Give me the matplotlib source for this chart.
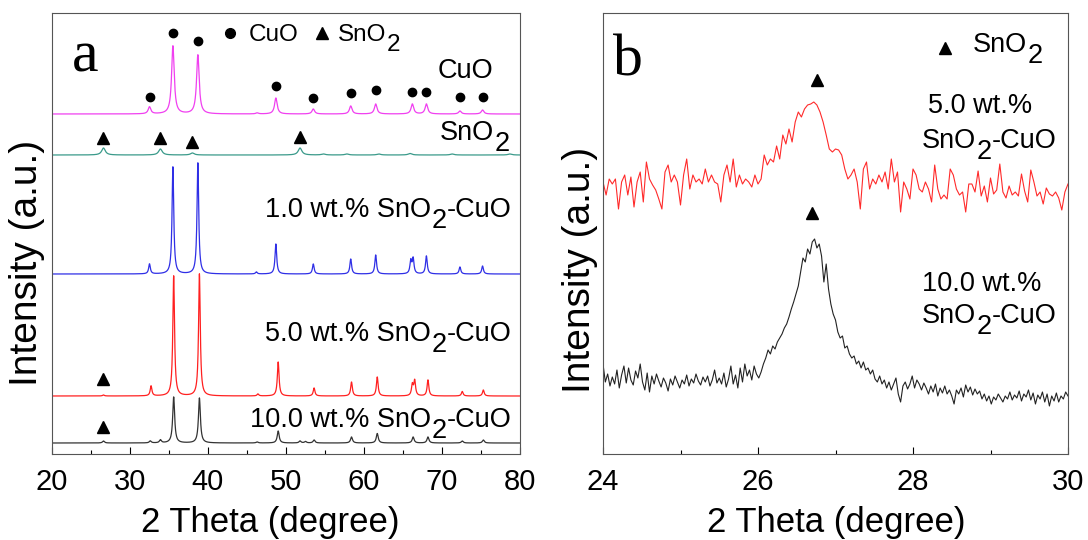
import numpy as np
import matplotlib
matplotlib.use("Agg")
import matplotlib.pyplot as plt

plt.rcParams['font.family'] = ['Liberation Sans', 'DejaVu Sans']

# ---- panel a: peak lists (2theta, height) ----
cuo_base = 340
cuo_pos = [32.5, 35.5, 38.7, 46.3, 48.7, 53.5, 58.3, 61.5, 66.2, 68.0, 72.3, 75.2]
cuo_h = [7, 68, 59, 1, 16, 5, 8, 10, 10, 10, 3, 4]
cuo_w = 0.2

sno2_base = 299
sno2_pos = [26.6, 33.9, 38.0, 51.8, 54.8, 57.8, 61.9, 65.9, 71.3, 78.7]
sno2_h = [7, 6, 2, 7, 1, 1, 1, 1.5, 1, 1]
sno2_w = 0.28

s1_base = 180
s1_pos = [32.5, 35.5, 38.7, 46.2, 48.7, 53.5, 58.3, 61.5, 66.0, 66.3, 68.0, 72.3, 75.2]
s1_h = [10, 107, 111, 2, 30, 10, 15, 19, 13, 15, 18, 7, 8]
s1_w = 0.13

s5_base = 58
s5_pos = [26.6, 32.7, 35.6, 38.9, 46.4, 49.0, 53.6, 58.4, 61.7, 66.2, 66.5, 68.2, 72.6, 75.3]
s5_h = [1, 10, 120, 122, 2, 34, 8, 14, 19, 11, 15, 16, 4.5, 6]
s5_w = 0.13

s10_base = 11
s10_pos = [26.6, 32.6, 33.9, 35.6, 38.9, 46.3, 49.0, 51.8, 52.5, 53.6, 58.4, 61.7, 66.3, 68.2, 72.6, 75.3]
s10_h = [2, 2, 3, 46, 45, 1, 12, 2, 1.5, 3, 6, 9.5, 6, 6, 2, 3]
s10_w = 0.15

# marker positions (2theta, height) above the reflections
cuo_dot_x = [32.5, 35.5, 38.7, 48.7, 53.5, 58.3, 61.5, 66.2, 68.0, 72.3, 75.2]
cuo_dot_y = [357, 421, 413, 368, 356, 361, 364, 362, 362, 357, 357]
sno2_tri_x = [26.6, 33.9, 38.0, 51.8]
sno2_tri_y = [316, 316, 312, 317]
s5_tri_x, s5_tri_y = [26.6], [75]
s10_tri_x, s10_tri_y = [26.6], [27]

# ---- panel b: (110) SnO2 reflection, scans 24-30 deg ----
red_b = [272, 259, 275, 270, 275, 245, 272, 279, 259, 277,
         247, 272, 282, 252, 292, 275, 269, 264, 255, 245,
         282, 289, 272, 279, 272, 249, 279, 295, 265, 279,
         272, 275, 270, 285, 272, 279, 272, 270, 252, 279,
         289, 272, 295, 267, 279, 270, 275, 272, 267, 279,
         270, 275, 299, 289, 295, 292, 308, 295, 319, 310,
         325, 312, 332, 342, 337, 345, 349, 350, 352, 349,
         342, 332, 319, 305, 302, 305, 304, 299, 285, 275,
         279, 285, 272, 245, 285, 292, 265, 275, 270, 279,
         272, 282, 265, 295, 272, 282, 242, 272, 265, 255,
         285, 279, 265, 262, 272, 265, 252, 289, 265, 255,
         259, 255, 285, 279, 265, 259, 262, 242, 270, 270,
         262, 283, 258, 268, 252, 276, 260, 264, 290, 262,
         256, 268, 259, 262, 258, 280, 263, 252, 284, 272,
         258, 262, 250, 266, 260, 258, 262, 256, 244, 262, 270]

black_b = [90, 72, 80, 68, 77, 70, 84, 66, 79, 88,
           71, 86, 74, 69, 83, 76, 90, 72, 64, 81,
           62, 78, 70, 80, 73, 67, 76, 71, 63, 75,
           69, 78, 72, 66, 74, 70, 79, 68, 75, 71,
           80, 73, 69, 77, 72, 78, 68, 74, 84, 71,
           76, 70, 81, 67, 75, 88, 70, 79, 66, 86,
           72, 90, 78, 84, 74, 88, 80, 76, 82, 90,
           96, 104, 100, 108, 105, 112, 116, 120, 126, 130,
           137, 145, 152, 160, 168, 182, 196, 192, 205, 200,
           212, 215, 206, 210, 198, 172, 190, 165, 150, 140,
           134, 122, 116, 118, 106, 108, 100, 96, 98, 90,
           93, 86, 92, 84, 86, 80, 84, 75, 72, 78,
           70, 74, 66, 72, 64, 70, 76, 60, 52, 68,
           72, 65, 70, 78, 66, 74, 70, 64, 71, 66,
           60, 68, 62, 70, 58, 66, 61, 68, 60, 64,
           58, 50, 64, 60, 66, 57, 69, 62, 67, 59,
           65, 60, 63, 55, 60, 53, 58, 50, 57, 54,
           60, 56, 52, 58, 55, 62, 54, 59, 56, 63,
           53, 60, 57, 64, 54, 61, 50, 59, 55, 62,
           52, 60, 48, 58, 53, 61, 52, 58, 55, 62, 58]

red_tri_x, red_tri_y = [26.76], [374]
black_tri_x, black_tri_y = [26.70], [241]


def pattern(x, base, pos, h, w):
    y = np.full_like(x, float(base))
    for p, a in zip(pos, h):
        y += a / (1 + ((x - p) / w) ** 2)
    return y


def sub_label(ax, x, y, pre, sub, post, fs):
    # subscript drawn at full size and dropped, as in the original figure
    t1 = ax.text(x, y, pre, transform=ax.transAxes, fontsize=fs, va='baseline')
    drop = 0.4 * fs
    t2 = ax.annotate(sub, xy=(1, 0), xycoords=t1, xytext=(0.5, -drop),
                     textcoords='offset points', fontsize=fs, va='bottom', ha='left')
    if post:
        ax.annotate(post, xy=(1, 0), xycoords=t2, xytext=(0, drop),
                    textcoords='offset points', fontsize=fs, va='bottom', ha='left')


fig = plt.figure(figsize=(10.88, 5.4), dpi=100)
ax1 = fig.add_axes([52 / 1088, 1 - 454 / 540, 468 / 1088, 441 / 540])
ax2 = fig.add_axes([603 / 1088, 1 - 454 / 540, 465 / 1088, 441 / 540])

tt = np.arange(20, 80.001, 0.02)
ax1.plot(tt, pattern(tt, cuo_base, cuo_pos, cuo_h, cuo_w), color='#f040f0', lw=0.9)
ax1.plot(tt, pattern(tt, sno2_base, sno2_pos, sno2_h, sno2_w), color='#3a9a8a', lw=0.9)
ax1.plot(tt, pattern(tt, s1_base, s1_pos, s1_h, s1_w), color='#2f2fe6', lw=0.9)
ax1.plot(tt, pattern(tt, s5_base, s5_pos, s5_h, s5_w), color='#ff2020', lw=0.9)
ax1.plot(tt, pattern(tt, s10_base, s10_pos, s10_h, s10_w), color='#333333', lw=0.9)

ax1.plot(cuo_dot_x, cuo_dot_y, 'o', color='k', ms=6)
ax1.plot(sno2_tri_x, sno2_tri_y, '^', color='k', ms=8)
ax1.plot(s5_tri_x, s5_tri_y, '^', color='k', ms=8)
ax1.plot(s10_tri_x, s10_tri_y, '^', color='k', ms=8)

ax1.set_xlim(20, 80)
ax1.set_ylim(0, 441)
ax1.set_xticks(range(20, 81, 10))
ax1.set_xticks(range(25, 80, 10), minor=True)

fs = 19.5
ax1.text(0.043, 0.868, 'a', transform=ax1.transAxes, fontsize=43,
         family='Liberation Serif', va='baseline')
ax1.plot([0.380], [0.955], 'o', color='k', ms=7, transform=ax1.transAxes, clip_on=False)
ax1.text(0.421, 0.9365, 'CuO', transform=ax1.transAxes, fontsize=17.5, va='baseline')
ax1.plot([0.576], [0.955], '^', color='k', ms=9, transform=ax1.transAxes, clip_on=False)
sub_label(ax1, 0.611, 0.9365, 'SnO', '2', '', 17.5)
ax1.text(0.825, 0.853, 'CuO', transform=ax1.transAxes, fontsize=fs, va='baseline')
sub_label(ax1, 0.829, 0.712, 'SnO', '2', '', fs)
sub_label(ax1, 0.455, 0.537, '1.0 wt.% SnO', '2', '-CuO', fs)
sub_label(ax1, 0.455, 0.256, '5.0 wt.% SnO', '2', '-CuO', fs)
sub_label(ax1, 0.423, 0.061, '10.0 wt.% SnO', '2', '-CuO', fs)

# panel b
xb_red = np.linspace(24, 30, len(red_b))
xb_black = np.linspace(24, 30, len(black_b))
ax2.plot(xb_red, red_b, color='#ff2a2a', lw=0.8)
ax2.plot(xb_black, black_b, color='#222222', lw=0.8)
ax2.plot(red_tri_x, red_tri_y, '^', color='k', ms=9)
ax2.plot(black_tri_x, black_tri_y, '^', color='k', ms=9)
ax2.set_xlim(24, 30)
ax2.set_ylim(0, 441)
ax2.set_xticks([24, 26, 28, 30])
ax2.set_xticks([25, 27, 29], minor=True)

ax2.text(0.0215, 0.859, 'b', transform=ax2.transAxes, fontsize=43,
         family='Liberation Serif', va='baseline')
ax2.plot([0.736], [0.92], '^', color='k', ms=9, transform=ax2.transAxes, clip_on=False)
sub_label(ax2, 0.796, 0.9116, 'SnO', '2', '', fs)
ax2.text(0.699, 0.773, '5.0 wt.%', transform=ax2.transAxes, fontsize=fs, va='baseline')
sub_label(ax2, 0.686, 0.694, 'SnO', '2', '-CuO', fs)
ax2.text(0.686, 0.370, '10.0 wt.%', transform=ax2.transAxes, fontsize=fs, va='baseline')
sub_label(ax2, 0.686, 0.297, 'SnO', '2', '-CuO', fs)

for ax in (ax1, ax2):
    ax.set_yticks([])
    ax.tick_params(axis='x', which='major', direction='in', length=5, width=0.8,
                   labelsize=21, pad=10)
    ax.tick_params(axis='x', which='minor', direction='in', length=3, width=0.8)
    for s in ax.spines.values():
        s.set_color('#555555')
        s.set_linewidth(0.8)
    ax.set_xlabel('2 Theta (degree)', fontsize=25)
    ax.set_ylabel('Intensity (a.u.)', fontsize=28)

ax1.xaxis.set_label_coords(0.466, -0.118)
ax2.xaxis.set_label_coords(0.501, -0.118)
ax1.yaxis.set_label_coords(-0.015, 0.433)
ax2.yaxis.set_label_coords(-0.011, 0.417)

fig.savefig('out.png', dpi=100)
